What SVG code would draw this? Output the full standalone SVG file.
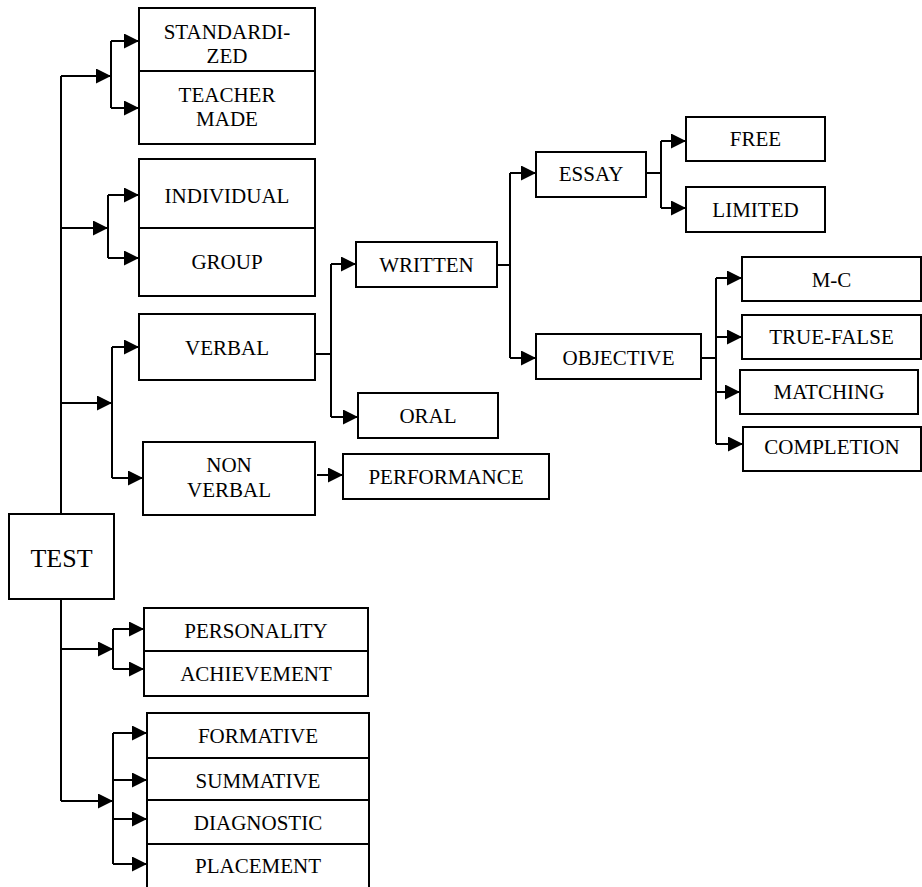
<svg xmlns="http://www.w3.org/2000/svg" width="922" height="887" viewBox="0 0 922 887">
<style>
.b{fill:#fff;stroke:#000;stroke-width:2}
.t{font-family:"Liberation Serif","Times New Roman",serif;font-size:21px;text-anchor:middle;fill:#000}
.c{fill:none;stroke:#000;stroke-width:2}
.a{marker-end:url(#ah)}
</style>
<defs>
<marker id="ah" markerUnits="userSpaceOnUse" markerWidth="16" markerHeight="16" refX="15" refY="7.5" orient="auto">
<path d="M0,0 L15,7.5 L0,15 z" fill="#000"/>
</marker>
</defs>
<rect width="922" height="887" fill="#fff"/>
<g id="connectors">
<path class="c" d="M61,76 V514 M61,599 V801"/>
<path class="c a" d="M61,76 H111"/>
<path class="c" d="M111,41 V108"/>
<path class="c a" d="M111,41 H139"/>
<path class="c a" d="M111,108 H139"/>
<path class="c a" d="M61,228 H108"/>
<path class="c" d="M108,195 V258"/>
<path class="c a" d="M108,195 H139"/>
<path class="c a" d="M108,258 H139"/>
<path class="c a" d="M61,403 H112"/>
<path class="c" d="M112,347 V478"/>
<path class="c a" d="M112,347 H139"/>
<path class="c a" d="M112,478 H143"/>
<path class="c a" d="M61,649 H113"/>
<path class="c" d="M113,629 V669"/>
<path class="c a" d="M113,629 H144"/>
<path class="c a" d="M113,669 H144"/>
<path class="c a" d="M61,801 H113"/>
<path class="c" d="M113,733 V864"/>
<path class="c a" d="M113,733 H147"/>
<path class="c a" d="M113,780 H147"/>
<path class="c a" d="M113,819 H147"/>
<path class="c a" d="M113,864 H147"/>
<path class="c" d="M315,354 H331 M331,264 V417"/>
<path class="c a" d="M331,264 H356"/>
<path class="c a" d="M331,417 H358"/>
<path class="c a" d="M317,475 H343"/>
<path class="c" d="M497,265 H510 M510,173 V358"/>
<path class="c a" d="M510,173 H536"/>
<path class="c a" d="M510,358 H536"/>
<path class="c" d="M646,173 H661 M661,141 V208"/>
<path class="c a" d="M661,141 H686"/>
<path class="c a" d="M661,208 H686"/>
<path class="c" d="M701,358 H716 M716,278 V444"/>
<path class="c a" d="M716,278 H742"/>
<path class="c a" d="M716,337 H742"/>
<path class="c a" d="M716,392 H740"/>
<path class="c a" d="M716,444 H743"/>
</g>
<g id="n-standardized"><rect class="b" x="139" y="8" width="176" height="63"/><text class="t" x="227" y="39">STANDARDI-</text><text class="t" x="227" y="63">ZED</text></g>
<g id="n-teachermade"><rect class="b" x="139" y="71" width="176" height="73"/><text class="t" x="227" y="102">TEACHER</text><text class="t" x="227" y="126">MADE</text></g>
<g id="n-individual"><rect class="b" x="139" y="159" width="176" height="69"/><text class="t" x="227" y="203">INDIVIDUAL</text></g>
<g id="n-group"><rect class="b" x="139" y="228" width="176" height="68"/><text class="t" x="227" y="269">GROUP</text></g>
<g id="n-verbal"><rect class="b" x="139" y="314" width="176" height="66"/><text class="t" x="227" y="355">VERBAL</text></g>
<g id="n-nonverbal"><rect class="b" x="143" y="442" width="172" height="73"/><text class="t" x="229" y="472">NON</text><text class="t" x="229" y="497">VERBAL</text></g>
<g id="n-written"><rect class="b" x="356" y="242" width="141" height="45"/><text class="t" x="426.5" y="272">WRITTEN</text></g>
<g id="n-oral"><rect class="b" x="358" y="393" width="140" height="45"/><text class="t" x="428" y="423">ORAL</text></g>
<g id="n-performance"><rect class="b" x="343" y="454" width="206" height="45"/><text class="t" x="446" y="484">PERFORMANCE</text></g>
<g id="n-essay"><rect class="b" x="536" y="152" width="110" height="45"/><text class="t" x="591" y="181">ESSAY</text></g>
<g id="n-objective"><rect class="b" x="536" y="334" width="165" height="45"/><text class="t" x="618.5" y="365">OBJECTIVE</text></g>
<g id="n-free"><rect class="b" x="686" y="117" width="139" height="44"/><text class="t" x="755.5" y="146">FREE</text></g>
<g id="n-limited"><rect class="b" x="686" y="187" width="139" height="45"/><text class="t" x="755.5" y="217">LIMITED</text></g>
<g id="n-mc"><rect class="b" x="742" y="257" width="179" height="44"/><text class="t" x="831.5" y="287">M-C</text></g>
<g id="n-truefalse"><rect class="b" x="742" y="315" width="179" height="44"/><text class="t" x="831.5" y="344">TRUE-FALSE</text></g>
<g id="n-matching"><rect class="b" x="740" y="370" width="178" height="44"/><text class="t" x="829" y="399">MATCHING</text></g>
<g id="n-completion"><rect class="b" x="743" y="427" width="178" height="44"/><text class="t" x="832" y="454">COMPLETION</text></g>
<g id="n-test"><rect class="b" x="9" y="514" width="105" height="85"/><text class="t" x="61.5" y="567" style="font-size:26px">TEST</text></g>
<g id="n-personality"><rect class="b" x="144" y="608" width="224" height="43"/><text class="t" x="256" y="638">PERSONALITY</text></g>
<g id="n-achievement"><rect class="b" x="144" y="651" width="224" height="45"/><text class="t" x="256" y="681">ACHIEVEMENT</text></g>
<g id="n-formative"><rect class="b" x="147" y="713" width="222" height="45"/><text class="t" x="258" y="743">FORMATIVE</text></g>
<g id="n-summative"><rect class="b" x="147" y="758" width="222" height="42"/><text class="t" x="258" y="788">SUMMATIVE</text></g>
<g id="n-diagnostic"><rect class="b" x="147" y="800" width="222" height="44"/><text class="t" x="258" y="830">DIAGNOSTIC</text></g>
<g id="n-placement"><rect class="b" x="147" y="844" width="222" height="46"/><text class="t" x="258" y="873">PLACEMENT</text></g>
</svg>
